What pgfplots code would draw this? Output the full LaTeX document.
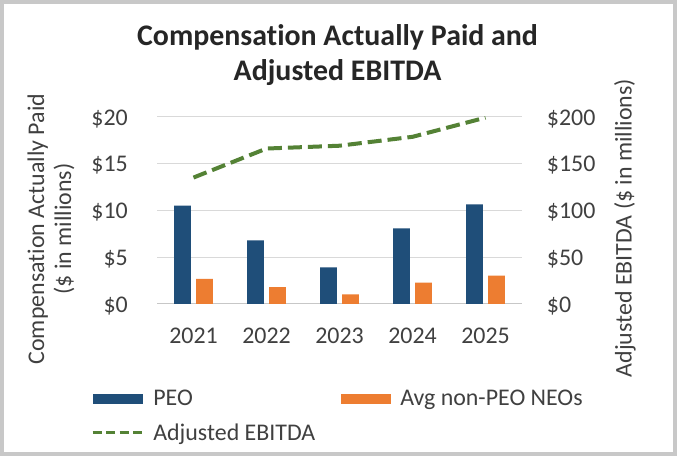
\documentclass[border=0pt]{standalone}
\usepackage{pgfplots}
\pgfplotsset{compat=1.18}
\usepackage{pgfplotstable}
\usepackage{fontspec}
\setmainfont{Carlito}[Ligatures=NoCommon]

\definecolor{peo}{HTML}{1F4E79}
\definecolor{neo}{HTML}{ED7D31}
\definecolor{ebitda}{HTML}{548235}
\definecolor{gridc}{HTML}{D9D9D9}
\definecolor{txt}{HTML}{404040}
\definecolor{ttl}{HTML}{262626}
\definecolor{framec}{HTML}{C8C8C8}

% values in $ millions
\pgfplotstableread{
x year peo neo ebitda
0 2021 10.50 2.67 135
1 2022 6.80 1.81 166
2 2023 3.90 1.03 169
3 2024 8.08 2.28 178.5
4 2025 10.64 3.02 199
}\data

\newcommand{\lblfont}{\fontsize{24}{27}\selectfont}

\begin{document}
\begin{tikzpicture}[x=1bp,y=1bp]
\useasboundingbox (0,0) rectangle (677,456);
\fill[white] (0,0) rectangle (677,456);
\draw[framec, line width=4bp] (2,2) rectangle (675,454);

\pgfplotsset{
  cap/.style={
    width=365bp, height=187.3bp, scale only axis,
    at={(157bp,152bp)}, anchor=south west,
    xmin=-0.5, xmax=4.5,
    tick style={draw=none}, major tick length=0pt,
    ticklabel style={font=\lblfont, text=txt},
  },
}

\begin{axis}[
  cap,
  ymin=0, ymax=20,
  axis x line*=bottom, axis y line*=left,
  y axis line style={draw=none},
  x axis line style={draw=gridc!80!gray, line width=1bp},
  ymajorgrids, grid style={gridc, line width=1bp},
  ytick={0,5,10,15,20},
  yticklabels={\$0,\$5,\$10,\$15,\$20},
  yticklabel style={anchor=east, inner sep=0pt, xshift=-29bp, yshift=-2bp},
  xtick={0,1,2,3,4},
  xticklabels={2021,2022,2023,2024,2025},
  xticklabel style={anchor=north, inner sep=0pt, yshift=-24bp},
  every axis y label/.style={at={(axis description cs:-0.2904,0.40)}, anchor=center,
    rotate=90, align=center, font=\lblfont, text=txt},
  ylabel={Compensation Actually Paid\\(\$ in millions)},
  title={Compensation Actually Paid and\\Adjusted EBITDA},
  title style={at={(axis description cs:0.5,1)}, anchor=south, align=center,
    inner sep=0pt, xshift=-2bp, yshift=25bp,
    font=\bfseries\fontsize{30}{35}\selectfont, text=ttl},
  legend columns=2, legend cell align=left,
  legend style={at={(axis description cs:-0.19,-0.439)}, anchor=north west,
    draw=none, fill=none, font=\lblfont, text=txt, row sep=12bp,
    /tikz/every odd column/.append style={column sep=7bp},
    /tikz/every even column/.append style={column sep=24bp}},
]
\addplot[ybar, bar width=16.7bp, bar shift=-11bp, fill=peo, draw=none,
  legend image code/.code={\fill[peo] (0bp,-5.3bp) rectangle (50bp,5.3bp);}]
  table[x=x, y=peo]{\data};
\addlegendentry{PEO}
\addplot[ybar, bar width=16.7bp, bar shift=11bp, fill=neo, draw=none,
  legend image code/.code={\fill[neo] (0bp,-5.3bp) rectangle (50bp,5.3bp);}]
  table[x=x, y=neo]{\data};
\addlegendentry{Avg non-PEO NEOs}
\addlegendimage{legend image code/.code={\draw[ebitda, line width=3.5bp,
  dash pattern=on 9bp off 4.5bp] (0bp,0bp) -- (50bp,0bp);}}
\addlegendentry{Adjusted EBITDA}
\end{axis}

\begin{axis}[
  cap,
  ymin=0, ymax=200,
  axis x line=none, axis y line*=right,
  y axis line style={draw=none},
  ytick={0,50,100,150,200},
  yticklabels={\$0,\$50,\$100,\$150,\$200},
  yticklabel style={anchor=west, inner sep=0pt, xshift=24.7bp, yshift=-2bp},
  every axis y label/.style={at={(axis description cs:1.282,0.406)}, anchor=center,
    rotate=90, font=\lblfont, text=txt},
  ylabel={Adjusted EBITDA (\$ in millions)},
]
\addplot[ebitda, line width=4bp, dash pattern=on 14bp off 6bp, line cap=butt]
  table[x=x, y=ebitda]{\data};
\end{axis}
\end{tikzpicture}
\end{document}
